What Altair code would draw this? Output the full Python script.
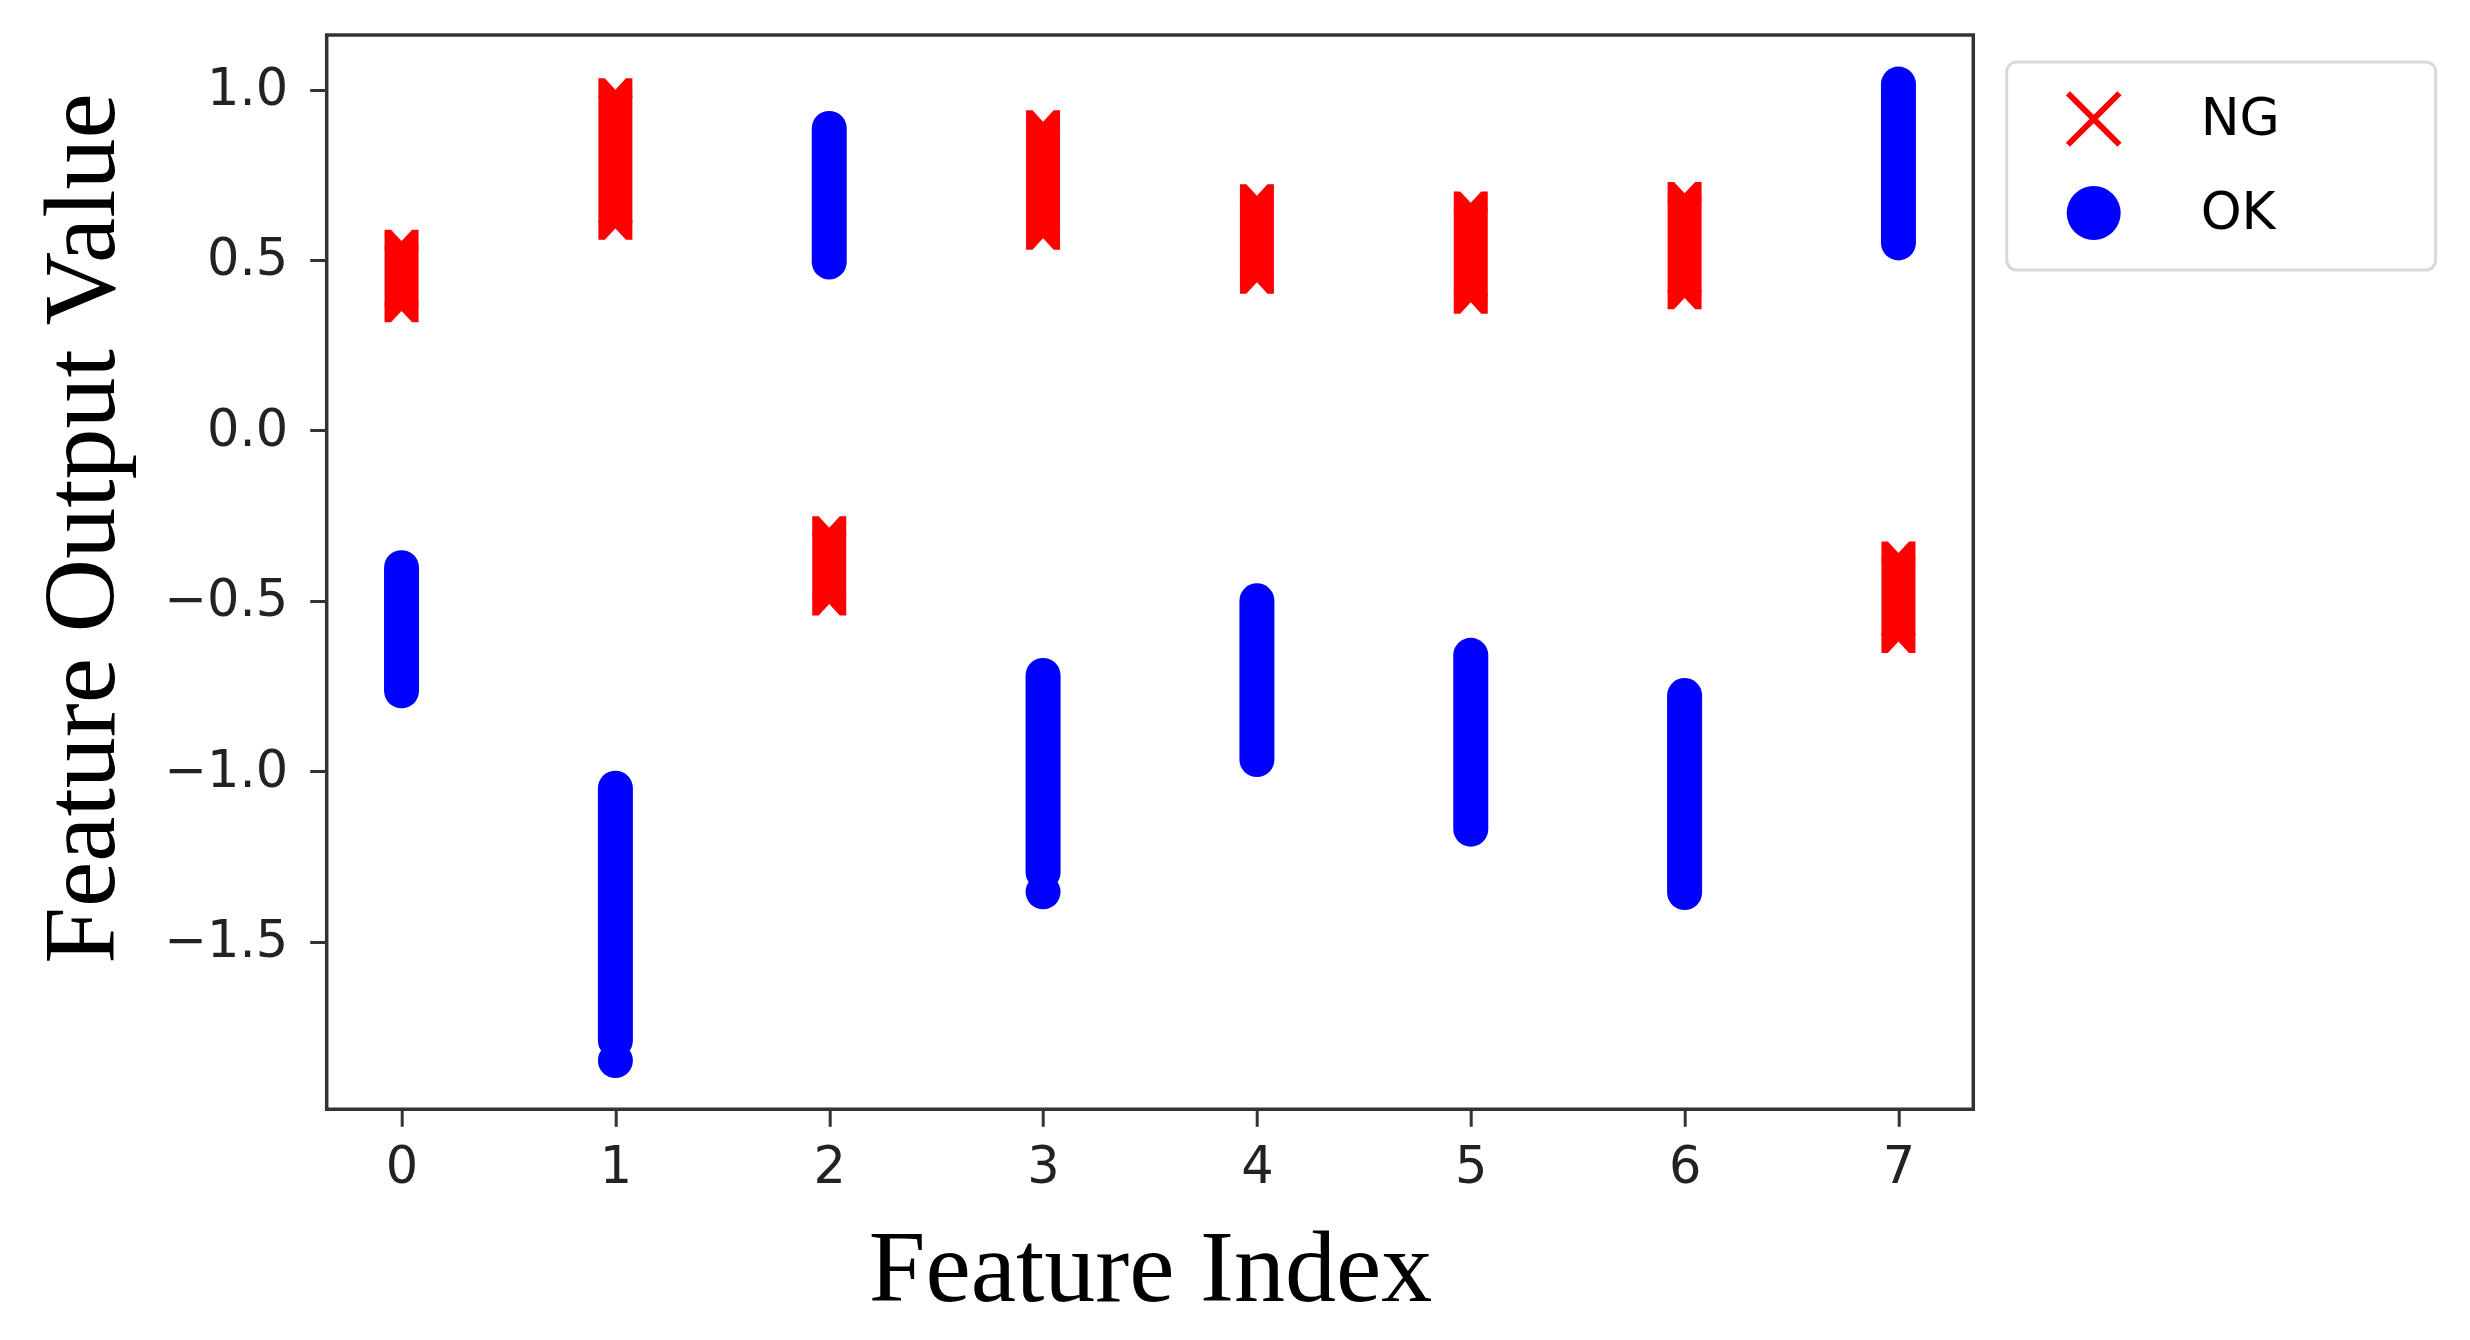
import altair as alt
import pandas as pd

# ---- data (centres of the stacked markers) ----
features = [0, 1, 2, 3, 4, 5, 6, 7]
ng_low = [0.367, 0.609, -0.493, 0.580, 0.451, 0.392, 0.405, -0.603]
ng_high = [0.539, 0.983, -0.302, 0.889, 0.672, 0.651, 0.679, -0.376]
ok_low = [-0.764, -1.790, 0.494, -1.297, -0.966, -1.170, -1.356, 0.550]
ok_high = [-0.403, -1.050, 0.886, -0.719, -0.500, -0.660, -0.778, 1.016]
ok_extra_feature = [1, 3]
ok_extra_value = [-1.849, -1.354]
classes = ["NG", "OK"]
class_colors = ["#ff0000", "#0000ff"]
x_ticks = [0, 1, 2, 3, 4, 5, 6, 7]
y_ticks = [-1.5, -1.0, -0.5, 0.0, 0.5, 1.0]

ng_df = pd.DataFrame({"feature": features, "low": ng_low, "high": ng_high})
ok_df = pd.DataFrame({"feature": features, "low": ok_low, "high": ok_high})
extra_df = pd.DataFrame({"feature": ok_extra_feature, "value": ok_extra_value,
                         "cls": ["OK"] * len(ok_extra_feature)})

RED, BLUE = class_colors
X_PATH = ("M0.877,-1.032L1.032,-0.877L0.156,0L1.032,0.877L0.877,1.032L0,0.156"
          "L-0.877,1.032L-1.032,0.877L-0.156,0L-1.032,-0.877L-0.877,-1.032L0,-0.156Z")
TOP_CAP = "M-1,0.15L-1,-1L-0.62,-1L0,-0.33L0.62,-1L1,-1L1,0.15Z"
BOT_CAP = "M-1,-0.15L-1,1L-0.62,1L0,0.33L0.62,1L1,1L1,-0.15Z"

xscale = alt.Scale(domain=[-0.35, 7.35], nice=False, zero=False)
yscale = alt.Scale(domain=[-1.992, 1.160], nice=False, zero=False)

xaxis = alt.Axis(values=x_ticks, format="d", title="Feature Index",
                 labelPadding=16, titlePadding=27)
yaxis = alt.Axis(values=y_ticks, format=".1f", title="Feature Output Value",
                 labelPadding=22, titlePadding=29, titleY=493)


def X():
    return alt.X("feature:Q", scale=xscale, axis=xaxis)


def Y(field):
    return alt.Y(f"{field}:Q", scale=yscale, axis=yaxis)


ng_body = alt.Chart(ng_df).mark_rule(color=RED, strokeWidth=34, strokeCap="butt").encode(
    x=X(), y=Y("low"), y2="high")
ng_top = alt.Chart(ng_df).mark_point(shape=TOP_CAP, filled=True, color=RED, size=1156,
                                     opacity=1, strokeWidth=0).encode(x=X(), y=Y("high"))
ng_bot = alt.Chart(ng_df).mark_point(shape=BOT_CAP, filled=True, color=RED, size=1156,
                                     opacity=1, strokeWidth=0).encode(x=X(), y=Y("low"))
ok_body = alt.Chart(ok_df).mark_rule(color=BLUE, strokeWidth=35, strokeCap="round").encode(
    x=X(), y=Y("low"), y2="high")

# invisible right-hand title only widens the legend frame to the reference width
legend = alt.Legend(title="M", titleOrient="right", titleOpacity=0, titleFontSize=20,
                    titlePadding=109,
                    orient="none", legendX=1680, legendY=27, padding=30,
                    symbolSize=2916, symbolStrokeWidth=0, symbolOpacity=1,
                    labelFont="DejaVu Sans", labelFontSize=52, labelColor="black",
                    labelOffset=80, symbolOffset=30, rowPadding=39, labelLimit=400,
                    strokeColor="#d9d9d9", cornerRadius=10, fillColor="white")

ok_extra = alt.Chart(extra_df).mark_point(filled=True, size=1225, opacity=1, strokeWidth=0).encode(
    x=X(), y=Y("value"),
    color=alt.Color("cls:N", scale=alt.Scale(domain=classes, range=class_colors), legend=legend),
    shape=alt.Shape("cls:N", scale=alt.Scale(domain=classes, range=[X_PATH, "circle"]), legend=legend),
)

chart = alt.layer(ng_body, ng_top, ng_bot, ok_body, ok_extra).properties(
    width=1646.6, height=1074.3,
    padding={"left": 318.7, "top": 27, "right": 480, "bottom": 215},
    autosize=alt.AutoSizeParams(type="none"),
).configure_view(
    stroke="#333333", strokeWidth=3.5
).configure_axis(
    domain=False, grid=False, ticks=True, tickColor="#333333", tickWidth=3, tickSize=17,
    labelFont="DejaVu Sans", labelFontSize=51, labelColor="#222222",
    titleFont="Liberation Serif", titleFontSize=102, titleFontWeight="normal", titleColor="black",
).configure_legend(strokeWidth=3)

chart.save("out.html", embed_options={"renderer": "svg", "actions": False})
